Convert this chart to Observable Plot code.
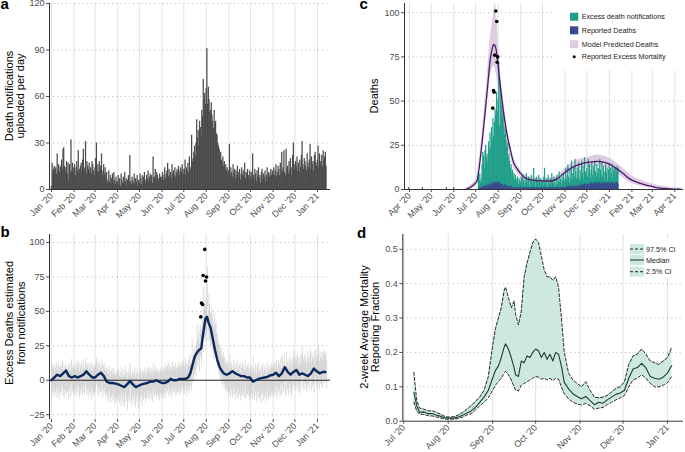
<!DOCTYPE html>
<html><head><meta charset="utf-8">
<script src="https://cdn.jsdelivr.net/npm/d3@7"></script>
<script src="https://cdn.jsdelivr.net/npm/@observablehq/plot@0.6"></script>
<style>
body{margin:0;background:#fff;}
#wrap{position:relative;width:685px;height:452px;overflow:hidden;font-family:"Liberation Sans",Arial,sans-serif;}
#wrap svg{position:absolute;overflow:visible}
</style></head><body><div id="wrap"></div>
<script>
// ---------------- DATA ----------------
// Panel a: death notifications uploaded per day, starting 2020-01-01
const notifStart = "2020-01-01";
const notifPerDay = [
 2,17,11,13,15,12,14,10,23,12,16,11,14,15,19,13,26,27,15,12,14,18,10,17,6,16,11,32,12,17,14,
 11,16,9,14,18,12,25,10,13,15,17,11,19,26,12,14,31,10,18,15,13,17,11,14,10,18,16,12,9,
 14,20,30,12,16,11,18,13,15,23,9,12,16,10,14,8,11,4,6,12,5,9,3,7,10,4,11,6,3,8,5,
 5,9,3,7,2,10,6,4,8,3,11,5,7,2,6,9,4,22,5,3,8,6,4,10,3,7,5,9,2,6,
 4,10,7,3,9,5,8,11,4,6,9,7,12,5,8,10,6,9,4,21,7,8,13,6,11,9,7,5,10,8,6,
 8,11,6,9,14,7,10,12,17,8,13,9,11,7,16,10,12,9,14,8,11,13,10,15,9,12,14,11,16,13,
 10,13,19,9,14,12,17,11,21,14,12,35,18,20,24,28,22,30,45,33,38,28,44,40,35,51,47,71,58,62,55,
 65,91,55,66,58,50,51,56,48,44,39,51,42,44,36,35,30,28,26,22,24,19,17,21,15,18,13,16,12,14,10,
 12,29,9,14,11,8,16,10,13,7,12,9,15,8,11,13,6,10,14,9,12,8,17,7,11,10,13,9,6,12,
 8,11,7,23,9,6,13,10,5,12,8,14,7,9,4,11,13,6,10,8,12,5,9,14,7,11,8,10,13,9,12,
 10,14,9,12,16,8,11,15,13,9,17,10,24,12,14,25,11,9,26,13,15,10,18,12,20,9,14,22,30,16,
 13,18,15,21,12,17,11,19,14,22,31,16,13,20,18,15,12,23,17,14,19,29,13,21,16,18,12,22,24,17,15,
 19,28,14,23,18,16,22,15,25,19,21,24,15
];
const ticksA = ["2020-01-01","2020-02-01","2020-03-01","2020-04-01","2020-05-01","2020-06-01","2020-07-01","2020-08-01","2020-09-01","2020-10-01","2020-11-01","2020-12-01","2021-01-01"];
const yTicksA = [0,30,60,90,120];

// Panel b: daily interval of excess deaths (lower / upper), starting 2020-01-01
const excessStart = "2020-01-01";
const excessHi = [
 12,10,8,11,6,9,13,7,10,12,5,9,11,8,14,13,7,10,6,12,9,8,11,7,10,13,6,15,9,11,8,
 9,12,7,10,14,8,13,6,11,9,12,7,15,10,8,13,16,9,11,7,12,10,8,13,6,11,9,7,10,
 11,14,16,8,12,7,13,9,10,15,6,11,8,12,7,9,5,8,4,10,6,3,7,9,4,8,5,3,6,4,7,
 5,8,3,6,2,9,4,3,7,2,10,4,6,1,5,8,3,12,4,2,7,5,3,9,2,6,4,8,1,5,
 3,8,6,2,7,4,6,9,3,5,8,6,10,4,7,9,5,8,3,12,6,7,10,5,8,7,6,4,9,7,5,
 7,9,5,8,12,6,9,10,14,7,11,8,10,6,13,9,10,8,12,7,9,11,9,13,8,10,12,9,14,11,
 9,11,16,8,12,10,15,10,18,13,11,30,16,18,22,25,20,27,40,30,35,26,40,37,33,48,44,68,55,58,52,
 60,82,50,62,55,48,49,53,46,42,38,48,40,42,34,33,28,26,25,21,23,18,16,20,14,17,12,15,11,13,9,
 11,18,8,13,10,7,15,9,12,6,11,8,14,7,10,12,5,9,13,8,11,7,15,6,10,9,12,8,5,11,
 7,10,6,16,8,5,12,9,4,11,7,13,6,8,3,10,12,5,9,7,11,4,8,13,6,10,7,9,12,8,11,
 9,13,8,11,15,7,10,14,12,8,16,9,18,11,13,19,10,8,20,12,14,9,17,11,15,8,13,16,22,15,
 12,17,14,19,11,16,10,18,13,20,24,15,12,19,17,14,11,21,16,13,18,23,12,20,15,17,11,21,22,16,14,
 18,24,13,21,17,15,20,14,22,18,19,21,14
];
const excessLo = [
 -15,-8,-10,-6,-12,-9,-5,-13,-7,-10,-14,-6,-9,-11,-4,-6,-12,-8,-13,-7,-10,-9,-6,-14,-8,-5,-12,-3,-9,-7,-11,
 -9,-6,-12,-8,-4,-11,-5,-13,-7,-10,-6,-12,-3,-9,-11,-5,-2,-10,-7,-13,-6,-9,-11,-5,-14,-8,-10,-12,-9,
 -7,-4,-2,-11,-6,-12,-5,-9,-8,-3,-13,-7,-10,-6,-12,-9,-14,-11,-16,-8,-13,-17,-12,-10,-15,-11,-14,-18,-13,-16,-12,
 -14,-11,-17,-13,-19,-10,-15,-18,-12,-20,-9,-16,-13,-22,-14,-11,-17,-6,-15,-19,-12,-14,-18,-10,-20,-13,-16,-11,-21,-14,
 -16,-11,-13,-19,-12,-15,-13,-9,-17,-14,-10,-13,-8,-15,-11,-9,-14,-10,-16,-6,-12,-11,-8,-13,-10,-11,-12,-15,-9,-11,-13,
 -12,-9,-14,-10,-6,-13,-9,-8,-4,-12,-7,-10,-8,-13,-5,-9,-8,-10,-6,-12,-9,-7,-10,-5,-11,-8,-6,-9,-4,-7,
 -10,-7,-2,-12,-6,-8,-4,-10,0,-5,-8,10,-2,0,4,6,2,8,18,10,14,6,18,16,12,24,20,38,30,32,28,
 34,52,28,36,30,24,25,28,22,19,15,24,17,18,12,11,7,5,4,0,2,-3,-4,-1,-6,-3,-8,-5,-9,-7,-11,
 -9,-2,-12,-7,-10,-13,-5,-11,-8,-14,-9,-12,-6,-13,-10,-8,-15,-11,-7,-12,-9,-13,-5,-14,-10,-11,-8,-12,-15,-9,
 -13,-10,-14,-4,-12,-15,-8,-11,-16,-9,-13,-7,-14,-12,-17,-10,-8,-15,-11,-13,-9,-16,-12,-7,-14,-10,-13,-11,-8,-12,-9,
 -11,-7,-12,-9,-5,-13,-10,-6,-8,-12,-4,-11,-2,-9,-7,-1,-10,-12,0,-8,-6,-11,-3,-9,-5,-12,-7,-4,2,-5,
 -8,-3,-6,-1,-9,-4,-10,-2,-7,0,4,-5,-8,-1,-3,-6,-9,1,-4,-7,-2,3,-8,0,-5,-3,-9,1,2,-4,-6,
 -2,4,-7,1,-3,-5,0,-6,2,-2,-1,1,-6
];
// Panel b: smoothed excess deaths (blue line)
const smoothDates = ["2020-01-01","2020-01-05","2020-01-09","2020-01-13","2020-01-17","2020-01-21","2020-01-25","2020-01-29","2020-02-02","2020-02-06","2020-02-10","2020-02-14","2020-02-18","2020-02-22","2020-02-26","2020-03-01","2020-03-05","2020-03-09","2020-03-13","2020-03-17","2020-03-21","2020-03-25","2020-03-29","2020-04-02","2020-04-06","2020-04-10","2020-04-14","2020-04-18","2020-04-22","2020-04-26","2020-04-30","2020-05-04","2020-05-08","2020-05-12","2020-05-16","2020-05-20","2020-05-24","2020-05-28","2020-06-01","2020-06-05","2020-06-09","2020-06-13","2020-06-17","2020-06-21","2020-06-25","2020-06-29","2020-07-03","2020-07-07","2020-07-10","2020-07-13","2020-07-16","2020-07-19","2020-07-22","2020-07-25","2020-07-28","2020-07-31","2020-08-02","2020-08-04","2020-08-07","2020-08-10","2020-08-13","2020-08-16","2020-08-19","2020-08-22","2020-08-25","2020-08-29","2020-09-02","2020-09-06","2020-09-10","2020-09-14","2020-09-18","2020-09-22","2020-09-26","2020-09-30","2020-10-04","2020-10-08","2020-10-12","2020-10-16","2020-10-20","2020-10-24","2020-10-28","2020-11-01","2020-11-05","2020-11-09","2020-11-13","2020-11-17","2020-11-21","2020-11-25","2020-11-29","2020-12-03","2020-12-07","2020-12-11","2020-12-15","2020-12-19","2020-12-23","2020-12-27","2020-12-31","2021-01-04","2021-01-08","2021-01-12"];
const smoothVals = [0,2,4,3,5,7,3,2,3,2,3,4,6.5,4,2,2,4,5.5,3,-1,-2,-2,-2.5,-3,-4,-5,-3,-0.5,-3,-5,-4,-3,-2.5,-2,-1,-1,0,-1,-2,-2,-1,1,0,0,1,1,1,2,5,11,17,20,22,23,35,45,46,42,38,30,22,15,10,7,5,4,5,6.5,5,4,3,3,2,2,-1,0,1,1.5,2,2.5,3.5,4,5.5,3,5,9.5,6,4,6,7.5,4,5,4,3,5,8.5,6.5,5,6,6];
const yTicksB = [-25,0,25,50,75,100];
// Reported excess mortality points (panel b)
const bPtDates = ["2020-07-24T10:00Z","2020-07-25T10:00Z","2020-07-26T19:00Z","2020-07-27T17:00Z","2020-07-29T22:00Z","2020-07-30T22:00Z","2020-08-01T07:00Z"];
const bPtVals = [46,56,55,76,95,72,75];

// Panel c: model predicted deaths
const modelDates = ["2020-06-17","2020-06-24","2020-06-28","2020-07-03","2020-07-07","2020-07-12","2020-07-17","2020-07-21","2020-07-24","2020-07-26","2020-07-28","2020-07-30","2020-08-03","2020-08-08","2020-08-13","2020-08-18","2020-08-22","2020-08-27","2020-09-01","2020-09-10","2020-09-23","2020-10-12","2020-10-21","2020-10-30","2020-11-08","2020-11-17","2020-11-26","2020-12-06","2020-12-15","2020-12-24","2021-01-02","2021-01-11","2021-01-20","2021-01-29","2021-02-07","2021-02-16","2021-02-26","2021-03-07","2021-03-16","2021-03-25","2021-04-01","2021-04-10"];
const modelMid = [0,1.3,2.5,5,16,35,56,73,80,82,81,77,62,45,31.6,22,15.5,11.8,9,6,5,4.8,6,9,11.8,13.6,14.8,15.5,15.9,15.5,14.2,11.8,9,6,4.3,3,2,1,0.6,0.3,0.2,0.1];
const modelLo = [0,0.3,1,3,12,29,48,63,68,70,68,64,52,38,27,18.5,13,9.5,7,4.5,3.5,3.5,4.5,7,9.5,11,12,12.5,13,12.5,11.5,9,6.5,4,2.5,1.5,0.8,0.3,0.1,0,0,0];
const modelHi = [0.5,2.5,4,7.5,20,41,64,85,94,100,105,98,72,52,36,25.5,18.5,14,11,7.5,6.5,6.5,7.5,11,14,16.5,17.5,18.5,19.5,19,17.5,15,12,8.5,6.5,5,3.5,2.5,1.8,1.2,1,0.7];
// Panel c: excess death notifications and reported deaths per day, starting 2020-07-05
const cBarStart = "2020-07-05";
const excessNotif = [
 8,5,9,4,6,14,21,19,12,22,25,18,20,15,27,22,32,24,35,28,40,30,38,45,42,55,44,
 51,72,36,60,50,47,41,44,36,31,34,28,24,26,18,20,16,12,14,9,11,7,9,5,8,6,4,7,3,6,5,
 4,7,3,8,5,2,6,4,9,3,5,7,2,6,4,8,3,5,12,4,6,2,7,5,3,8,4,6,3,5,
 4,2,7,12,3,5,6,2,8,4,3,6,2,9,5,3,7,4,2,6,8,3,5,10,4,6,3,7,5,9,4,
 6,12,5,8,14,7,4,11,6,16,9,5,13,7,17,10,6,12,8,15,5,11,7,16,9,13,6,18,10,8,
 12,7,17,9,14,6,11,15,8,13,5,16,10,7,14,9,12,6,17,11,8,15,7,13,10,6,14,9,12,5,11,
 15,7,12,9,14,6,11,13,8,12,10,13,12
];
const reportedDeaths = [
 0,1,0,1,1,1,2,1,2,1,2,2,1,3,2,2,3,2,3,4,3,3,4,3,4,3,4,
 4,3,4,3,3,2,3,2,2,3,2,1,2,2,1,2,1,1,2,1,1,1,0,1,1,0,1,1,0,1,1,
 1,0,1,1,0,1,1,0,1,0,1,1,0,1,0,1,1,0,1,0,1,0,1,1,0,1,0,1,0,1,
 1,0,1,1,0,1,0,1,1,0,1,0,1,1,0,1,1,0,1,1,0,1,1,0,1,1,1,0,1,1,1,
 1,1,1,2,1,1,2,1,1,2,1,2,1,1,2,2,1,2,2,1,2,2,3,2,2,3,2,3,2,3,
 3,2,3,3,2,3,4,3,3,2,4,3,3,4,3,3,4,3,4,3,3,4,3,3,4,3,4,3,3,4,3,
 4,3,3,4,3,4,3,3,4,3,4,4,3
];
const earlyReportedDates = ["2020-03-31","2020-04-19","2020-05-22","2020-06-01"];
const earlyReportedVals = [1,1,1,1];
const cPtDates = ["2020-07-24T14:00Z","2020-07-25T14:00Z","2020-07-26T12:00Z","2020-07-27T07:00Z","2020-07-28T17:00Z","2020-07-30T02:00Z","2020-07-30T14:00Z","2020-07-31T10:00Z"];
const cPtVals = [46,56,55,76,101,95,72,75];
const ticksC = ["2020-04-01","2020-05-01","2020-06-01","2020-07-01","2020-08-01","2020-09-01","2020-10-01","2020-11-01","2020-12-01","2021-01-01","2021-02-01","2021-03-01","2021-04-01"];
const yTicksC = [0,25,50,75,100];
const legendC = ["Excess death notifications","Reported Deaths","Model Predicted Deaths","Reported Excess Mortality"];

// Panel d: 2-week average mortality reporting fraction
const fracDates = ["2020-07-08","2020-07-10","2020-07-12","2020-07-15","2020-07-18","2020-07-21","2020-07-24","2020-07-27","2020-07-30","2020-08-02","2020-08-05","2020-08-08","2020-08-11","2020-08-14","2020-08-17","2020-08-20","2020-08-23","2020-08-26","2020-08-29","2020-09-01","2020-09-03","2020-09-05","2020-09-07","2020-09-09","2020-09-10","2020-09-12","2020-09-14","2020-09-16","2020-09-17","2020-09-19","2020-09-21","2020-09-23","2020-09-25","2020-09-27","2020-09-29","2020-10-01","2020-10-03","2020-10-05","2020-10-07","2020-10-09","2020-10-11","2020-10-13","2020-10-15","2020-10-17","2020-10-19","2020-10-21","2020-10-24","2020-10-27","2020-10-30","2020-11-02","2020-11-05","2020-11-08","2020-11-11","2020-11-14","2020-11-17","2020-11-20","2020-11-23","2020-11-26","2020-11-29","2020-12-02","2020-12-05","2020-12-08","2020-12-11","2020-12-14","2020-12-17","2020-12-20","2020-12-23","2020-12-26","2020-12-29","2021-01-01","2021-01-04"];
const fracMed = [0.084,0.045,0.026,0.027,0.022,0.022,0.017,0.014,0.009,0.009,0.009,0.012,0.017,0.024,0.03,0.04,0.055,0.07,0.09,0.125,0.148,0.16,0.185,0.215,0.225,0.21,0.185,0.155,0.135,0.13,0.175,0.17,0.19,0.185,0.2,0.21,0.205,0.185,0.2,0.18,0.195,0.175,0.2,0.195,0.16,0.113,0.094,0.08,0.072,0.065,0.072,0.06,0.048,0.055,0.052,0.062,0.07,0.078,0.082,0.09,0.125,0.152,0.156,0.168,0.155,0.13,0.125,0.122,0.128,0.14,0.162];
const fracHi = [0.142,0.06,0.038,0.035,0.03,0.03,0.025,0.02,0.013,0.012,0.013,0.018,0.025,0.035,0.045,0.058,0.07,0.09,0.13,0.22,0.27,0.3,0.33,0.38,0.39,0.36,0.33,0.35,0.31,0.28,0.32,0.42,0.46,0.49,0.52,0.53,0.52,0.48,0.44,0.42,0.42,0.41,0.42,0.39,0.3,0.2,0.14,0.12,0.11,0.1,0.115,0.09,0.07,0.068,0.07,0.075,0.085,0.095,0.1,0.115,0.165,0.19,0.195,0.21,0.195,0.175,0.17,0.165,0.175,0.185,0.215];
const fracLo = [0.055,0.03,0.02,0.02,0.016,0.015,0.012,0.009,0.006,0.006,0.006,0.008,0.012,0.018,0.022,0.032,0.045,0.055,0.068,0.09,0.105,0.115,0.125,0.14,0.145,0.135,0.12,0.1,0.09,0.088,0.105,0.11,0.115,0.12,0.125,0.13,0.128,0.122,0.125,0.12,0.125,0.118,0.125,0.122,0.1,0.08,0.065,0.055,0.05,0.047,0.052,0.045,0.035,0.038,0.04,0.048,0.055,0.062,0.068,0.075,0.1,0.12,0.125,0.135,0.125,0.11,0.1,0.1,0.105,0.112,0.13];
const ticksD = ["2020-07-01","2020-08-01","2020-09-01","2020-10-01","2020-11-01","2020-12-01","2021-01-01"];
const yTicksD = [0,0.1,0.2,0.3,0.4,0.5];
const legendD = ["97.5% CI","Median","2.5% CI"];
const panelLabels = ["a","b","c","d"];

// ---------------- BUILD ----------------
const FONT = "'Liberation Sans', Arial, sans-serif";
const P = s => new Date(s);
const fmt = d3.utcFormat("%b '%y");
const wrap = document.getElementById("wrap");
const gridV = {stroke: "#e3e3e3", strokeOpacity: 1, strokeWidth: 1};
const gridH = {stroke: "#b0b0b0", strokeOpacity: 1, strokeWidth: 0.8, strokeDasharray: "1.2,3"};
const axC = {fontSize: 9, color: "#4d4d4d", tickSize: 3, tickPadding: 2, label: null};
const style = {fontFamily: FONT, background: "transparent", overflow: "visible"};
const barInset = {insetLeft: -0.25, insetRight: -0.25};

function place(svg, left, top) {
  svg.style.position = "absolute"; svg.style.left = left + "px"; svg.style.top = top + "px";
  svg.style.maxWidth = "none";
  wrap.appendChild(svg);
  return svg;
}
function ylab(svg, lines, xs, cy) {
  const s = d3.select(svg);
  lines.forEach((t, i) => {
    s.append("text").attr("transform", `translate(${xs[i]},${cy}) rotate(-90)`)
      .attr("text-anchor", "middle").attr("font-size", 11).attr("font-family", FONT)
      .attr("fill", "#000").text(t);
  });
}
function plabel(svg, t, x, y) {
  d3.select(svg).append("text").attr("x", x).attr("y", y).attr("text-anchor", "start")
    .attr("font-size", 15).attr("font-weight", "bold").attr("font-family", FONT).attr("fill", "#000").text(t);
}

// ---- Panel a ----
const aStart = P(notifStart);
const A = notifPerDay.map((v, i) => ({d: d3.utcDay.offset(aStart, i), d2: d3.utcDay.offset(aStart, i + 1), v}));
const xDomA = [new Date(Date.UTC(2019, 11, 29, 6)), new Date(Date.UTC(2021, 0, 18, 22))];
const svgA = Plot.plot({
  width: 340, height: 225, marginLeft: 49, marginRight: 10, marginTop: 3, marginBottom: 36,
  style, x: {type: "utc", domain: xDomA}, y: {domain: [0, 120]},
  marks: [
    Plot.gridX(ticksA.map(P), gridV),
    Plot.gridY(yTicksA.slice(1), gridH),
    Plot.rectY(A, {x1: "d", x2: "d2", y: "v", fill: "#4a4a4a", ...barInset}),
    Plot.ruleY([0], {stroke: "#333", strokeWidth: 1}),
    Plot.ruleX([xDomA[0]], {stroke: "#333", strokeWidth: 1}),
    Plot.axisX({ticks: ticksA.map(P), tickFormat: fmt, tickRotate: -45, ...axC}),
    Plot.axisY({ticks: yTicksA, ...axC})
  ]
});
place(svgA, 0, 0);
ylab(svgA, ["Death notifications", "uploaded per day"], [13, 23.5], 96);
plabel(svgA, panelLabels[0], 0.5, 8.5);

// ---- Panel b ----
const bStart = P(excessStart);
const B = excessHi.map((h, i) => ({d: d3.utcHour.offset(d3.utcDay.offset(bStart, i), 12), hi: h, lo: excessLo[i]}));
const S = smoothDates.map((d, i) => ({d: P(d), v: smoothVals[i]}));
const BP = bPtDates.map((d, i) => ({d: P(d), v: bPtVals[i]}));
const svgB = Plot.plot({
  width: 340, height: 227, marginLeft: 49, marginRight: 10, marginTop: 9, marginBottom: 33,
  style, x: {type: "utc", domain: xDomA}, y: {domain: [-28.5, 105.8]},
  marks: [
    Plot.gridX(ticksA.map(P), gridV),
    Plot.gridY(yTicksB.filter(t => t !== 0), gridH),
    Plot.ruleX(B, {x: "d", y1: "lo", y2: "hi", stroke: "#c4c4c4", strokeWidth: 0.6}),
    Plot.ruleY([0], {stroke: "#222", strokeWidth: 1}),
    Plot.line(S, {x: "d", y: "v", stroke: "#0b2a5b", strokeWidth: 2.4}),
    Plot.dot(BP, {x: "d", y: "v", r: 1.8, fill: "#000", stroke: null}),
    Plot.ruleX([xDomA[0]], {stroke: "#333", strokeWidth: 1}),
    Plot.axisX({ticks: ticksA.map(P), tickFormat: fmt, tickRotate: -45, ...axC}),
    Plot.axisY({ticks: yTicksB, ...axC})
  ]
});
place(svgB, 0, 225);
ylab(svgB, ["Excess Deaths estimated", "from notifications"], [13, 25], 98);
plabel(svgB, panelLabels[1], 0.5, 11.5);

// ---- Panel c ----
const cStart = P(cBarStart);
const CB = excessNotif.map((v, i) => ({d: d3.utcDay.offset(cStart, i), d2: d3.utcDay.offset(cStart, i + 1), v, r: reportedDeaths[i]}));
const CE = earlyReportedDates.map((d, i) => ({d: P(d), d2: d3.utcDay.offset(P(d), 1), r: earlyReportedVals[i]}));
const M = modelDates.map((d, i) => ({d: P(d), mid: modelMid[i], lo: modelLo[i], hi: modelHi[i]}));
const CP = cPtDates.map((d, i) => ({d: P(d), v: cPtVals[i]}));
const xDomC = [new Date(Date.UTC(2020, 2, 25, 3)), new Date(Date.UTC(2021, 3, 13, 0))];
const svgC = Plot.plot({
  width: 345, height: 225, marginLeft: 64, marginRight: 2, marginTop: 3, marginBottom: 36,
  style, x: {type: "utc", domain: xDomC}, y: {domain: [0, 105.2]},
  marks: [
    Plot.gridX(ticksC.map(P), gridV),
    Plot.gridY(yTicksC.slice(1), gridH),
    Plot.areaY(M, {x: "d", y1: "lo", y2: "hi", fill: "#ddcde3", fillOpacity: 1, curve: "monotone-x"}),
    Plot.rectY(CB, {x1: "d", x2: "d2", y: "v", fill: "#1f9e89", ...barInset}),
    Plot.rectY(CB, {x1: "d", x2: "d2", y: "r", fill: "#3b4a8c", ...barInset}),
    Plot.rectY(CE, {x1: "d", x2: "d2", y: "r", fill: "#3b4a8c", ...barInset}),
    Plot.line(M, {x: "d", y: "mid", stroke: "#4e1668", strokeWidth: 1.3, curve: "monotone-x"}),
    Plot.dot(CP, {x: "d", y: "v", r: 1.8, fill: "#000", stroke: null}),
    Plot.ruleY([0], {stroke: "#333", strokeWidth: 1}),
    Plot.ruleX([xDomC[0]], {stroke: "#333", strokeWidth: 1}),
    Plot.axisX({ticks: ticksC.map(P), tickFormat: fmt, tickRotate: -45, ...axC}),
    Plot.axisY({ticks: yTicksC, ...axC})
  ]
});
place(svgC, 340, 0);
ylab(svgC, ["Deaths"], [38], 96);
plabel(svgC, panelLabels[2], 19.5, 8.5);
{
  const s = d3.select(svgC);
  const g = s.append("g").attr("font-family", FONT).attr("font-size", 7.2).attr("fill", "#222").attr("text-anchor", "start");
  g.append("rect").attr("x", 215).attr("y", 2).attr("width", 130).attr("height", 68).attr("fill", "#fff");
  const cols = ["#1f9e89", "#3b4a8c", "#ddcde3"];
  const ys = [16.7, 30.3, 44.2, 56.7];
  legendC.forEach((t, i) => {
    if (i < 3) g.append("rect").attr("x", 230).attr("y", ys[i] - 4).attr("width", 8.3).attr("height", 8).attr("fill", cols[i]);
    else g.append("circle").attr("cx", 234.2).attr("cy", ys[i]).attr("r", 1.5).attr("fill", "#000");
    g.append("text").attr("x", 241.7).attr("y", ys[i] + 2.6).attr("text-anchor", "start").text(t);
  });
}

// ---- Panel d ----
const D = fracDates.map((d, i) => ({d: P(d), med: fracMed[i], lo: fracLo[i], hi: fracHi[i]}));
const xDomD = [new Date(Date.UTC(2020, 5, 30, 7)), new Date(Date.UTC(2021, 0, 12, 5))];
const svgD = Plot.plot({
  width: 345, height: 227, marginLeft: 62.3, marginRight: 2, marginTop: 9, marginBottom: 31.3,
  style, x: {type: "utc", domain: xDomD}, y: {domain: [0, 0.543]},
  marks: [
    Plot.gridX(ticksD.map(P), gridV),
    Plot.gridY(yTicksD.slice(1), gridH),
    Plot.areaY(D, {x: "d", y1: "lo", y2: "hi", fill: "#cde8e1", fillOpacity: 1}),
    Plot.line(D, {x: "d", y: "hi", stroke: "#111", strokeWidth: 0.9, strokeDasharray: "3,2"}),
    Plot.line(D, {x: "d", y: "lo", stroke: "#111", strokeWidth: 0.9, strokeDasharray: "3,2"}),
    Plot.line(D, {x: "d", y: "med", stroke: "#1c3a33", strokeWidth: 1.1}),
    Plot.ruleY([0], {stroke: "#333", strokeWidth: 1}),
    Plot.ruleX([xDomD[0]], {stroke: "#333", strokeWidth: 1}),
    Plot.axisX({ticks: ticksD.map(P), tickFormat: fmt, tickRotate: -45, ...axC}),
    Plot.axisY({ticks: yTicksD, tickFormat: d3.format(".1f"), ...axC})
  ]
});
place(svgD, 340, 225);
ylab(svgD, ["2-week Average Mortality", "Reporting Fraction"], [27.5, 39], 102);
plabel(svgD, panelLabels[3], 17, 12.5);
{
  const s = d3.select(svgD);
  const g = s.append("g").attr("font-family", FONT).attr("font-size", 7.2).attr("fill", "#222").attr("text-anchor", "start");
  g.append("rect").attr("x", 285).attr("y", 14).attr("width", 60).attr("height", 39).attr("fill", "#fff");
  const ys = [24, 35, 46.7];
  const dash = ["3,2", null, "3,2"];
  legendD.forEach((t, i) => {
    g.append("rect").attr("x", 290).attr("y", ys[i] - 5).attr("width", 14).attr("height", 10).attr("fill", "#cde8e1");
    const l = g.append("line").attr("x1", 290).attr("x2", 304).attr("y1", ys[i]).attr("y2", ys[i])
      .attr("stroke", "#111").attr("stroke-width", 0.9);
    if (dash[i]) l.attr("stroke-dasharray", dash[i]);
    g.append("text").attr("x", 306).attr("y", ys[i] + 2.6).attr("text-anchor", "start").text(t);
  });
}
</script></body></html>
